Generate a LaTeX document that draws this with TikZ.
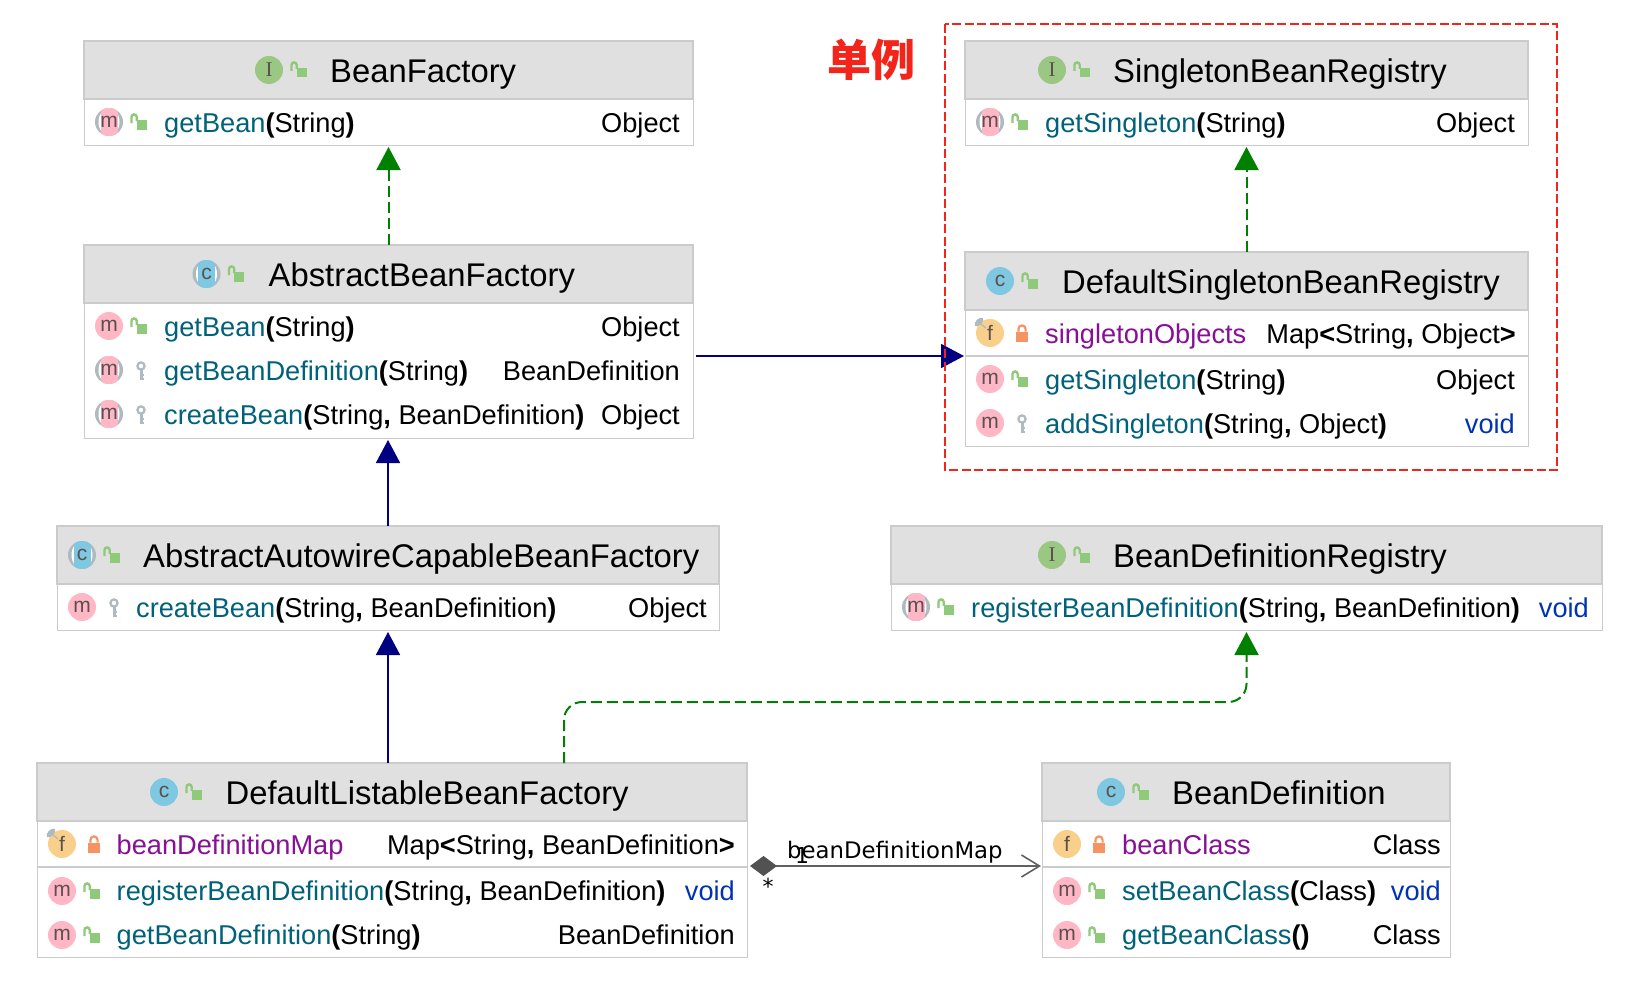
\documentclass[tikz,border=0pt]{standalone}
\usepackage{fontspec}
\usepackage{xcolor}
\usetikzlibrary{arrows.meta}
\setmainfont{Liberation Sans}
\newfontfamily\cjkfont{Noto Sans CJK SC}
\newfontfamily\labelfont{DejaVu Sans}
\newfontfamily\serifletter{Liberation Serif}

\definecolor{boxgray}{HTML}{CBCBCB}
\definecolor{headgray}{HTML}{E0E0E0}
\definecolor{mthteal}{HTML}{00627A}
\definecolor{fldpurple}{HTML}{871094}
\definecolor{voidblue}{HTML}{0033B3}
\definecolor{linkgreen}{HTML}{008000}
\definecolor{linknavy}{HTML}{000080}
\definecolor{markred}{HTML}{F3241A}
\definecolor{mpink}{HTML}{FFB7C5}
\definecolor{cblue}{HTML}{7FC8E2}
\definecolor{igreen}{HTML}{9AC781}
\definecolor{forange}{HTML}{F9D08B}
\definecolor{lockgreen}{HTML}{8FC97A}
\definecolor{lockred}{HTML}{F59363}
\definecolor{keygray}{HTML}{AEB9C0}
\definecolor{lettergray}{HTML}{5A5050}

\newcommand{\meth}[2]{\textcolor{mthteal}{#1}\textbf{(}#2\textbf{)}}
\newcommand{\comma}{\textbf{,}}

\tikzset{
  classbody/.style={draw=boxgray,fill=white,line width=1pt,inner sep=0,outer sep=0},
  headbar/.style={draw=boxgray,fill=headgray,line width=1.6pt,inner sep=0,outer sep=0},
  sepline/.style={draw=boxgray,line width=2pt},
  titletxt/.style={anchor=base west,inner sep=0,font=\fontsize{32.8}{33}\selectfont},
  rowtxt/.style={anchor=base west,inner sep=0,font=\fontsize{27.2}{28}\selectfont},
  rowfield/.style={rowtxt,text=fldpurple},
  rowtype/.style={anchor=base east,inner sep=0,font=\fontsize{27.2}{28}\selectfont},
  rowvoid/.style={rowtype,text=voidblue},
  realize/.style={draw=linkgreen,line width=2pt,dash pattern=on 11pt off 5pt,
    -{Triangle[length=23pt,width=24pt,fill=linkgreen,sep=0pt]},shorten >=2pt},
  inherit/.style={draw=linknavy,line width=1.8pt,
    -{Triangle[length=23pt,width=24pt,fill=linknavy]},shorten >=2pt},
  compose/.style={draw=black!62,line width=1.6pt,
    {Diamond[length=27pt,width=20pt,fill=black!68,color=black!68]}-{Straight Barb[length=18pt,width=22pt]}},
  lettertxt/.style={inner sep=0,text=lettergray,font=\fontsize{21}{21}\selectfont},
  % round marks
  roundmark/.pic={
    \fill[#1] (0,0) circle (14);
    \node[lettertxt] (-t) at (0,0) {\tikzpictext};
  },
  abstractmark/.pic={
    \fill[keygray] (0,0) circle (14);
    \fill[white] (0,0) ellipse (10.5 and 14);
    \begin{scope}
      \clip (0,0) circle (14);
      \fill[#1] (-8.5,-14) rectangle (8.5,14);
    \end{scope}
    \node[lettertxt] (-t) at (0,0) {\tikzpictext};
  },
  fieldmark/.pic={
    \fill[forange] (0,0) circle (14);
    \node[lettertxt] (-t) at (0,0) {f};
  },
  pinmark/.pic={
    \fill[forange] (0,0) circle (14);
    \fill[keygray,shift={(-11,-11)},rotate=45] (0,0) ellipse (5.5 and 3);
    \draw[keygray,line width=1.2pt] (-9,-9) -- (-4,-5);
    \node[lettertxt] (-t) at (0,0) {f};
  },
  % access marks
  openlock/.pic={
    \fill[lockgreen] (-2.5,-2) rectangle (7.5,7.5);
    \draw[lockgreen,line width=2.4pt] (-7.5,1) -- (-7.5,-5) arc (180:360:2.6) -- (-2.3,-1);
  },
  closedlock/.pic={
    \fill[lockred] (-6,-1.5) rectangle (6,8.5);
    \draw[lockred,line width=2.2pt] (-3.6,-1.5) -- (-3.6,-4) arc (180:360:3.6) -- (3.6,-1.5);
  },
  keymark/.pic={
    \draw[keygray,line width=2.2pt] (2,-4) circle (3.6);
    \draw[keygray,line width=3pt] (2,-1) -- (2,10);
    \draw[keygray,line width=2pt] (2,5) -- (5,5) (2,9) -- (5,9);
  }
}

\begin{document}
\begin{tikzpicture}[x=1pt,y=-1pt]
  \useasboundingbox (0,0) rectangle (1644,998);

  % BeanFactory
  \node[classbody,minimum width=609,minimum height=104] (bf) at (388.5,93) {};
  \node[headbar,minimum width=609,minimum height=58] (bfhead) at (388.5,70) {};
  \pic[pic text=\serifletter I] at (269,70) {roundmark=igreen};
  \pic at (299,70) {openlock};
  \node[titletxt] (bftitle) at (330,82) {BeanFactory};
  \pic[pic text=m] at (109,122) {abstractmark=mpink};
  \pic at (139,122) {openlock};
  \node[rowtxt] (bfget) at (164,132) {\meth{getBean}{String}};
  \node[rowtype] (bfgett) at (680,132) {Object};

  % AbstractBeanFactory
  \node[classbody,minimum width=609,minimum height=193] (abf) at (388.5,341.5) {};
  \node[headbar,minimum width=609,minimum height=58] (abfhead) at (388.5,274) {};
  \pic[pic text=c] at (206.5,274) {abstractmark=cblue};
  \pic at (236.5,274) {openlock};
  \node[titletxt] (abftitle) at (268.5,286) {AbstractBeanFactory};
  \pic[pic text=m] at (109,326) {roundmark=mpink};
  \pic at (139,326) {openlock};
  \node[rowtxt] (abfget) at (164,336) {\meth{getBean}{String}};
  \node[rowtype] (abfgett) at (680,336) {Object};
  \pic[pic text=m] at (109,370) {abstractmark=mpink};
  \pic at (139,370) {keymark};
  \node[rowtxt] (abfdef) at (164,380) {\meth{getBeanDefinition}{String}};
  \node[rowtype] (abfdeft) at (680,380) {BeanDefinition};
  \pic[pic text=m] at (109,414) {abstractmark=mpink};
  \pic at (139,414) {keymark};
  \node[rowtxt] (abfnew) at (164,424) {\meth{createBean}{String\comma{} BeanDefinition}};
  \node[rowtype] (abfnewt) at (680,424) {Object};

  % AbstractAutowireCapableBeanFactory
  \node[classbody,minimum width=662,minimum height=104] (aac) at (388,578) {};
  \node[headbar,minimum width=662,minimum height=58] (aachead) at (388,555) {};
  \pic[pic text=c] at (82,555) {abstractmark=cblue};
  \pic at (112,555) {openlock};
  \node[titletxt] (aactitle) at (143,567) {AbstractAutowireCapableBeanFactory};
  \pic[pic text=m] at (82,607) {roundmark=mpink};
  \pic at (112,607) {keymark};
  \node[rowtxt] (aacnew) at (136,617) {\meth{createBean}{String\comma{} BeanDefinition}};
  \node[rowtype] (aacnewt) at (707,617) {Object};

  % DefaultListableBeanFactory
  \node[classbody,minimum width=710,minimum height=194] (dlbf) at (392,860) {};
  \node[headbar,minimum width=710,minimum height=58] (dlbfhead) at (392,792) {};
  \pic[pic text=c] at (164,792) {roundmark=cblue};
  \pic at (194,792) {openlock};
  \node[titletxt] (dlbftitle) at (225.5,804) {DefaultListableBeanFactory};
  \pic at (62,844) {pinmark};
  \pic at (94,844) {closedlock};
  \node[rowfield] (dlbfmap) at (116.5,854) {beanDefinitionMap};
  \node[rowtype] (dlbfmapt) at (735,854) {Map\textbf{<}String\comma{} BeanDefinition\textbf{>}};
  \draw[sepline] (37,867) -- (747,867);
  \pic[pic text=m] at (62,891) {roundmark=mpink};
  \pic at (92,891) {openlock};
  \node[rowtxt] (dlbfreg) at (116.5,900) {\meth{registerBeanDefinition}{String\comma{} BeanDefinition}};
  \node[rowvoid] (dlbfregt) at (735,900) {void};
  \pic[pic text=m] at (62,935) {roundmark=mpink};
  \pic at (92,935) {openlock};
  \node[rowtxt] (dlbfdef) at (116.5,944) {\meth{getBeanDefinition}{String}};
  \node[rowtype] (dlbfdeft) at (735,944) {BeanDefinition};

  % SingletonBeanRegistry
  \node[classbody,minimum width=563,minimum height=104] (sbr) at (1246.5,93) {};
  \node[headbar,minimum width=563,minimum height=58] (sbrhead) at (1246.5,70) {};
  \pic[pic text=\serifletter I] at (1052,70) {roundmark=igreen};
  \pic at (1082,70) {openlock};
  \node[titletxt] (sbrtitle) at (1113,82) {SingletonBeanRegistry};
  \pic[pic text=m] at (990,122) {abstractmark=mpink};
  \pic at (1020,122) {openlock};
  \node[rowtxt] (sbrget) at (1045,132) {\meth{getSingleton}{String}};
  \node[rowtype] (sbrgett) at (1515,132) {Object};

  % DefaultSingletonBeanRegistry
  \node[classbody,minimum width=563,minimum height=194] (dsbr) at (1246.5,349) {};
  \node[headbar,minimum width=563,minimum height=58] (dsbrhead) at (1246.5,281) {};
  \pic[pic text=c] at (1000,281) {roundmark=cblue};
  \pic at (1030,281) {openlock};
  \node[titletxt] (dsbrtitle) at (1062,293) {DefaultSingletonBeanRegistry};
  \pic at (990,333) {pinmark};
  \pic at (1022,333) {closedlock};
  \node[rowfield] (dsbrobj) at (1045,343) {singletonObjects};
  \node[rowtype] (dsbrobjt) at (1516,343) {Map\textbf{<}String\comma{} Object\textbf{>}};
  \draw[sepline] (965,356) -- (1528,356);
  \pic[pic text=m] at (990,379) {roundmark=mpink};
  \pic at (1020,379) {openlock};
  \node[rowtxt] (dsbrget) at (1045,389) {\meth{getSingleton}{String}};
  \node[rowtype] (dsbrgett) at (1515,389) {Object};
  \pic[pic text=m] at (990,423) {roundmark=mpink};
  \pic at (1020,423) {keymark};
  \node[rowtxt] (dsbradd) at (1045,433) {\meth{addSingleton}{String\comma{} Object}};
  \node[rowvoid] (dsbraddt) at (1515,433) {void};

  % BeanDefinitionRegistry
  \node[classbody,minimum width=711,minimum height=104] (bdr) at (1246.5,578) {};
  \node[headbar,minimum width=711,minimum height=58] (bdrhead) at (1246.5,555) {};
  \pic[pic text=\serifletter I] at (1052,555) {roundmark=igreen};
  \pic at (1082,555) {openlock};
  \node[titletxt] (bdrtitle) at (1113,567) {BeanDefinitionRegistry};
  \pic[pic text=m] at (916,607) {abstractmark=mpink};
  \pic at (946,607) {openlock};
  \node[rowtxt] (bdrreg) at (971,617) {\meth{registerBeanDefinition}{String\comma{} BeanDefinition}};
  \node[rowvoid] (bdrregt) at (1589,617) {void};

  % BeanDefinition
  \node[classbody,minimum width=408,minimum height=194] (bd) at (1246,860) {};
  \node[headbar,minimum width=408,minimum height=58] (bdhead) at (1246,792) {};
  \pic[pic text=c] at (1111,792) {roundmark=cblue};
  \pic at (1141,792) {openlock};
  \node[titletxt] (bdtitle) at (1172,804) {BeanDefinition};
  \pic at (1067,844) {fieldmark};
  \pic at (1099,844) {closedlock};
  \node[rowfield] (bdcls) at (1122,854) {beanClass};
  \node[rowtype] (bdclst) at (1441,854) {Class};
  \draw[sepline] (1042,867) -- (1450,867);
  \pic[pic text=m] at (1067,891) {roundmark=mpink};
  \pic at (1097,891) {openlock};
  \node[rowtxt] (bdset) at (1122,900) {\meth{setBeanClass}{Class}};
  \node[rowvoid] (bdsett) at (1441,900) {void};
  \pic[pic text=m] at (1067,935) {roundmark=mpink};
  \pic at (1097,935) {openlock};
  \node[rowtxt] (bdget) at (1122,944) {\meth{getBeanClass}{}};
  \node[rowtype] (bdgett) at (1441,944) {Class};

  % Links
  \coordinate (dsbrin) at (964,356);
  \coordinate (dlbfup) at (564,763);
  \coordinate (bendy) at (0,702);
  \coordinate (dlbfout) at (750,866);
  \coordinate (bdin) at (1041,866);
  \draw[realize] (abf.north) -- (bf.south);
  \draw[realize] (dsbr.north) -- (sbr.south);
  \draw[inherit] (aac.north) -- (aac.north |- abf.south);
  \draw[inherit] (dlbf.north -| aac.south) -- (aac.south);
  \draw[inherit,shorten >=0pt] (abf.east |- dsbrin) ++(3,0) -- (dsbrin);
  \draw[realize,rounded corners=18] (dlbfup) -- (dlbfup |- bendy) -- (bdr.south |- bendy) -- (bdr.south);
  \draw[compose] (dlbfout) -- (bdin);
  \node[inner sep=0,anchor=base west,font=\labelfont\fontsize{22.8}{23}\selectfont] (maplabel) at (787,858) {beanDefinitionMap};
  \node[inner sep=0,font=\labelfont\fontsize{22}{22}\selectfont] (onelabel) at (802,855) {1};
  \node[inner sep=0,font=\labelfont\fontsize{22}{22}\selectfont] (starlabel) at (768,886) {*};

  % Singleton frame
  \draw[markred,line width=2.8pt,dash pattern=on 9pt off 3.5pt] (945,24) rectangle (1557,470);
  \node[inner sep=0,text=markred,font=\cjkfont\bfseries\fontsize{44}{44}\selectfont] (singletag) at (871,60) {单例};
\end{tikzpicture}
\end{document}
